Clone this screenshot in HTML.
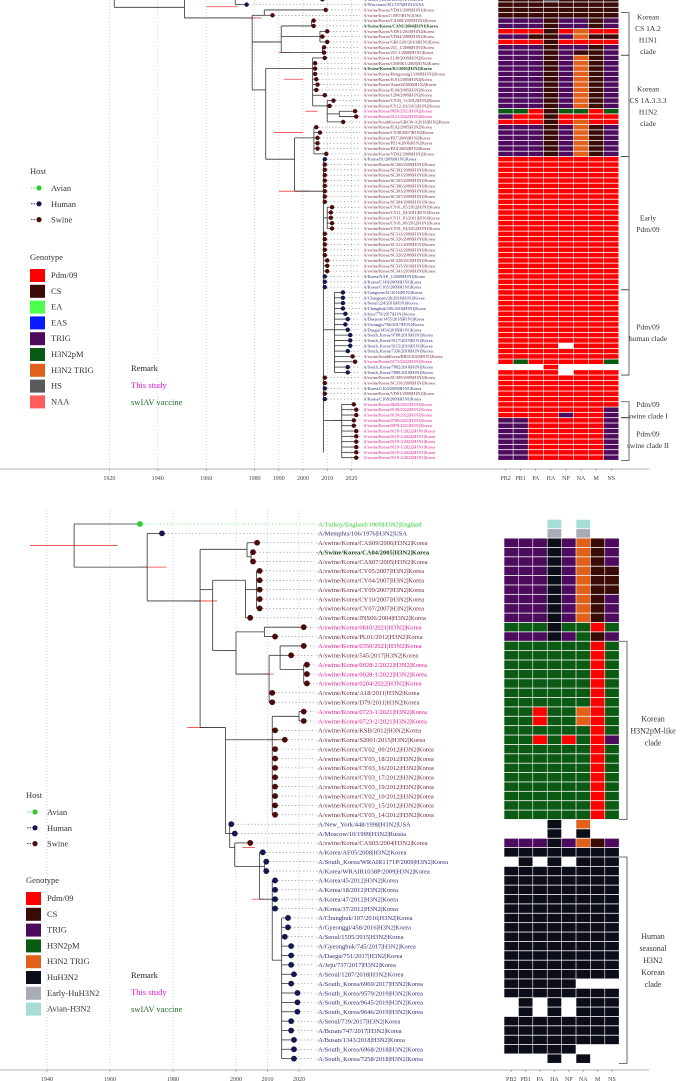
<!DOCTYPE html>
<html><head><meta charset="utf-8"><style>
html,body{margin:0;padding:0;background:#fff;}
svg{display:block;font-family:"Liberation Serif",serif;}
</style></head><body>
<svg id="fig" width="683" height="1081" viewBox="0 0 683 1081" xmlns="http://www.w3.org/2000/svg"></svg>
<script>
// ================= TOP PANEL DATA (H1 segment tree) =================
const topLabels = ["A/South_Korea/2009|H1N1|Korea","A/Wisconsin/301/1976|H1N1|USA","A/swine/Korea/VDS1/2009|H1N1|Korea","A/swine/Iowa/1/1987|H1N1|USA","A/swine/Korea/CAS08/2005|H1N1|Korea","A/Swine/Korea/CAN1/2004|H1N1|Korea","A/swine/Korea/VDS1/2010|H1N2|Korea","A/swine/Korea/VDS4/2008|H1N1|Korea","A/swine/Korea/GBCG01/2010|H1N1|Korea","A/swine/Korea/251_1/2008|H1N1|Korea","A/swine/Korea/251-1/2008|H1N1|Korea","A/swine/Korea/1130/2009|H1N2|Korea","A/swine/Korea/GNS9K1/2005|H1N2|Korea","A/Swine/Korea/K1/2005|H1N2|Korea","A/swine/Korea/Hongseong1/2008|H1N2|Korea","A/swine/Korea/JL01/2005|H1N2|Korea","A/swine/Korea/Asan04/2006|H1N2|Korea","A/swine/Korea/JL04/2005|H1N2|Korea","A/swine/Korea/1204/2009|H1N2|Korea","A/swine/Korea/CY03_11/2012|H1N2|Korea","A/swine/Korea/CY12_03/2011|H1N2|Korea","A/swine/Korea/0656/2021|H1N2|Korea","A/swine/Korea/0121/2022|H1N2|Korea","A/swine/SouthKorea/GBCW-3/2016|H1N2|Korea","A/swine/Korea/JL02/2005|H1N2|Korea","A/swine/Korea/CY08/2007|H1N2|Korea","A/swine/Korea/PZ7/2006|H1N2|Korea","A/swine/Korea/PZ14/2006|H1N2|Korea","A/swine/Korea/PZ4/2006|H1N2|Korea","A/swine/Korea/VDS2/2009|H1N2|Korea","A/Korea/01/2009|H1N1|Korea","A/swine/Korea/SC300/2009|H1N1|Korea","A/swine/Korea/SC302/2009|H1N1|Korea","A/swine/Korea/SC301/2009|H1N1|Korea","A/swine/Korea/SC305/2009|H1N1|Korea","A/swine/Korea/SC306/2009|H1N1|Korea","A/swine/Korea/SC303/2009|H1N1|Korea","A/swine/Korea/SC307/2009|H1N1|Korea","A/swine/Korea/SC304/2009|H1N1|Korea","A/swine/Korea/CY01_05/2012|H1N1|Korea","A/swine/Korea/CY11_02/2011|H1N1|Korea","A/swine/Korea/CY11_01/2011|H1N1|Korea","A/swine/Korea/CY01_06/2012|H1N1|Korea","A/swine/Korea/CY01_04/2012|H1N1|Korea","A/swine/Korea/SC313/2009|H1N1|Korea","A/swine/Korea/SC326/2009|H1N1|Korea","A/swine/Korea/SC311/2009|H1N1|Korea","A/swine/Korea/SC312/2009|H1N1|Korea","A/swine/Korea/SC320/2009|H1N1|Korea","A/swine/Korea/SC328/2010|H1N1|Korea","A/swine/Korea/SC335/2010|H1N1|Korea","A/swine/Korea/SC341/2010|H1N1|Korea","A/Korea/NAP_1/2009|H1N1|Korea","A/Korea/C140/2009|H1N1|Korea","A/Korea/C165/2009|H1N1|Korea","A/Gangwon/61/2016|H1N1|Korea","A/Chungnam/26/2016|H1N1|Korea","A/Seoul/224/2016|H1N1|Korea","A/Chungbuk/106/2016|H1N1|Korea","A/Jeju/779/2017|H1N1|Korea","A/Daejeon/1455/2018|H1N1|Korea","A/Gwangju/766/2017|H1N1|Korea","A/Daegu/1454/2018|H1N1|Korea","A/South_Korea/9708/2019|H1N1|Korea","A/South_Korea/9117/2019|H1N1|Korea","A/South_Korea/9115/2019|H1N1|Korea","A/South_Korea/7336/2018|H1N1|Korea","A/swine/SouthKorea/BRI5/2020|H1N1|Korea","A/swine/Korea/0171/2022|H1N1|Korea","A/South_Korea/7882/2018|H1N1|Korea","A/South_Korea/7880/2018|H1N1|Korea","A/swine/Korea/SC309/2009|H1N1|Korea","A/swine/Korea/SC310/2009|H1N1|Korea","A/Korea/C104/2009|H1N1|Korea","A/swine/Korea/VDS1/2009|H1N1|Korea","A/Korea/C168/2009|H1N1|Korea","A/swine/Korea/0629/2021|H1N1|Korea","A/swine/Korea/0138/2022|H1N1|Korea","A/swine/Korea/0139/2022|H1N1|Korea","A/swine/Korea/0760/2021|H1N1|Korea","A/swine/Korea/0878/2021|H1N1|Korea","A/swine/Korea/0118-1/2022|H1N1|Korea","A/swine/Korea/0119-2/2022|H1N1|Korea","A/swine/Korea/0119-3/2022|H1N1|Korea","A/swine/Korea/0119-1/2022|H1N1|Korea","A/swine/Korea/0118-2/2022|H1N1|Korea","A/swine/Korea/0119-4/2022|H1N1|Korea"];
const topHosts = "HHSSSSSSSSSSSSSSSSSSSSSSSSSSSSHSSSSSSSSSSSSSSSSSSSSSHHHHHHHHHHHHHHHSSHHSSHSHSSSSSSSSSSS";
const topStyles = "nnnnnvnnnnnnnvnnnnnnnppnnnnnnnnnnnnnnnnnnnnnnnnnnnnnnnnnnnnnnnnnnnnnpnnnnnnnppppppppppp";
const topTipYears = [2008,1976.7,2009.4,1987.4,2004.4,2004.4,2010,2008,2010,2008.7,2008.7,2009,2005,2005,2005,2005.5,2006,2005.5,2009,2012.6,2011,2021.5,2022,2016.6,2005.5,2007,2006,2006,2006,2009.6,2009,2009,2009,2009,2009,2009,2009,2009,2009,2012,2011.5,2011.5,2012,2012,2009,2009,2009,2009,2009,2010,2010,2010,2009,2009,2009,2016.5,2016.5,2016.5,2016.5,2017.5,2018.5,2017.5,2018.5,2019.5,2019.5,2019.5,2018.5,2020.5,2021.5,2018.5,2018.5,2009,2009,2009,2009,2009,2021,2022,2022,2021,2021,2022,2022,2022,2022,2022,2022];
const topParents = [1972,1972,1984,1984,2003.5,2003.5,2007,2007,2007,2008,2008,2004,2004,2004,2004,2004,2004,2004,2004,2010,2010,2015,2015,2010,2004.5,2004.5,2004.5,2004.5,2004.5,2004.5,2008.5,2008.5,2008.5,2008.5,2008.5,2008.5,2008.5,2008.5,2008.5,2010,2010,2010,2010,2010,2008.5,2008.5,2008.5,2008.5,2008.5,2008.5,2008.5,2008.5,2008.5,2008.5,2008.5,2013,2013,2013,2013,2013,2013,2013,2013,2013,2013,2013,2013,2013,2013,2013,2013,2008.5,2008.5,2008.5,2008.5,2008.5,2016,2016,2016,2016,2016,2016,2016,2016,2016,2016,2016];
const topGenotypes = ["CCCHCCCC","CCCCCCCC","CCCCCCCC","CCCCCCCC","TTTCTTCT","TTTCTTCT","PPPCPOPP","TTCCTOCC","PPPCPPPP","TTTCTTCT","TTTCTCCT","TTTCTOCT","TTTCTOCT","TTTCTOCT","TTTCTOCT","TTTCTOCT","TTTCTOCT","TTTCTOCT","TTTCTOCT","TTTCTOCT","TTTCTOCT","GGPCGGPG","TPPCPPPP","PPPCPOPP","TTTCTOCT","TTTCTOCT","TTTCTOCT","TTTCTOCT","TTTCTOCT","TTTCTOCT",
"PPPPPPPP","PPPPPPPP","PPPPPPPP","PPPPPPPP","PPPPPPPP","PPPPPPPP","PPPPPPPP","PPPPPPPP","PPPPPPPP","PPPPPPPP","PPPPPPPP","PPPPPPPP","PPPPPPPP","PPPPPPPP","PPPPPPPP","PPPPPPPP","PPPPPPPP","PPPPPPPP","PPPPPPPP","PPPPPPPP","PPPPPPPP","PPPPPPPP","PPPPPPPP","PPPPPPPP","PPPPPPPP","PPPPPPPP","PPPPPPPP","PPPPPPPP","PPPPPPPP","PPPPPPPP","PPPPPPPP","PPPPPPPP","PPPPPPPP","PPPPPPPP","PPPPPPPP","PPPPWPPP","PPPPPPPP","PPPPPPPP","PGPPPPPG","WWWPWWWW","PPPPWPPP","PPPPPPPP","PPPPPPPP","PPPPPPPP","PPPPPPPP","PPPPPPPP","PPPPPPPP","PPPPPPPT","PPPPTPPT","TTPPPPPT","TTPPPPPT","TTPPPPPT","TTPPPPPT","TTPPPPPT","TTPPPPPT","TTPPPPPT","TTPPPPPT"];
const topNodes = [[1922,-1,2.5],[1951,1,4.5],[1972,1,2],[1979,4,18],[1984,3,4],[1991,6,11],[2003.5,5,6],[2007,7,9],[2008,10,11],[1984.6,14,31],[2004,12,21],[2010,20,24],[2015,22,23],[1996.5,27,37],[2004.5,25,30],[2008.5,31,86],[2010,40,44],[2013,56,71],[2016,77,87]];
const topStems = [[1922,1951,2.5],[1951,1972,1],[1951,1979,4.5],[1979,1984,4],[1979,1991,9],[1991,2003.5,6],[1991,2007,8],[1991,2008,11],[1979,1984.6,18],[1984.6,2004,14],[2004,2010,21],[2010,2015,22.5],[1984.6,1996.5,31],[1996.5,2004.5,27],[1996.5,2008.5,37],[2008.5,2010,42],[2008.5,2013,63],[2008.5,2016,80]];
const topErrBars = [[1960,1973,2.4],[1975,1983,4.5],[1980,1988,9],[1990,1995,11],[1992,2000,16],[1988,2000,26],[1990,2003,37],[2012,2016,80],[2001,2006,22]];
const topTicks = [1920,1940,1960,1980,1990,2000,2010,2020];
const topClades = [[4,11,["Korean","CS 1A.2","H1N1","clade"]],[12,30,["Korean","CS 1A.3.3.3","H1N2","clade"]],[31,55,["Early","Pdm/09"]],[56,71,["Pdm/09","human clade"]],[77,79,["Pdm/09","swine clade I"]],[80,87,["Pdm/09","swine clade II"]]];

// ================= BOTTOM PANEL DATA (H3 segment tree) =================
const botLabels = ["A/Turkey/England/1969|H3N2|England","A/Memphis/106/1976|H3N2|USA","A/swine/Korea/CAS09/2006|H3N2|Korea","A/Swine/Korea/CA04/2005|H3N2|Korea","A/swine/Korea/CAS07/2005|H3N2|Korea","A/swine/Korea/CY05/2007|H3N2|Korea","A/swine/Korea/CY04/2007|H3N2|Korea","A/swine/Korea/CY09/2007|H3N2|Korea","A/swine/Korea/CY10/2007|H3N2|Korea","A/swine/Korea/CY07/2007|H3N2|Korea","A/swine/Korea/JNS06/2004|H3N2|Korea","A/swine/Korea/0810/2021|H3N2|Korea","A/swine/Korea/PL01/2012|H3N2|Korea","A/swine/Korea/0350/2021|H3N2|Korea","A/swine/Korea/545/2017|H3N2|Korea","A/swine/Korea/0028-2/2022|H3N2|Korea","A/swine/Korea/0028-1/2022|H3N2|Korea","A/swine/Korea/0204/2022|H3N2|Korea","A/swine/Korea/A18/2011|H3N2|Korea","A/swine/Korea/D79/2011|H3N2|Korea","A/swine/Korea/0723-1/2021|H3N2|Korea","A/swine/Korea/0723-2/2021|H3N2|Korea","A/swine/Korea/KSB/2012|H3N2|Korea","A/swine/Korea/S2001/2015|H3N2|Korea","A/swine/Korea/CY02_09/2012|H3N2|Korea","A/swine/Korea/CY03_18/2012|H3N2|Korea","A/swine/Korea/CY03_16/2012|H3N2|Korea","A/swine/Korea/CY03_17/2012|H3N2|Korea","A/swine/Korea/CY03_19/2012|H3N2|Korea","A/swine/Korea/CY02_10/2012|H3N2|Korea","A/swine/Korea/CY03_15/2012|H3N2|Korea","A/swine/Korea/CY03_14/2012|H3N2|Korea","A/New_York/448/1998|H3N2|USA","A/Moscow/10/1999|H3N2|Russia","A/swine/Korea/CAS05/2004|H3N2|Korea","A/Korea/AF05/2008|H3N2|Korea","A/South_Korea/WRAIR1171P/2009|H3N2|Korea","A/Korea/WRAIR1038P/2009|H3N2|Korea","A/Korea/45/2012|H3N2|Korea","A/Korea/18/2012|H3N2|Korea","A/Korea/47/2012|H3N2|Korea","A/Korea/37/2012|H3N2|Korea","A/Chungbuk/107/2016|H3N2|Korea","A/Gyeonggi/458/2016|H3N2|Korea","A/Seoul/1595/2015|H3N2|Korea","A/Gyeongbuk/745/2017|H3N2|Korea","A/Daegu/751/2017|H3N2|Korea","A/Jeju/737/2017|H3N2|Korea","A/Seoul/1287/2018|H3N2|Korea","A/South_Korea/6969/2017|H3N2|Korea","A/South_Korea/9579/2019|H3N2|Korea","A/South_Korea/9645/2019|H3N2|Korea","A/South_Korea/9646/2019|H3N2|Korea","A/Seoul/739/2017|H3N2|Korea","A/Busan/747/2017|H3N2|Korea","A/Busan/1343/2018|H3N2|Korea","A/South_Korea/6968/2018|H3N2|Korea","A/South_Korea/7258/2018|H3N2|Korea"];
const botHosts = "AHSSSSSSSSSSSSSSSSSSSSSSSSSSSSSSHHSHHHHHHHHHHHHHHHHHHHHHHH";
const botStyles = "nnnvnnnnnnnpnpnpppnnppnnnnnnnnnnnnnnnnnnnnnnnnnnnnnnnnnnnn";
const botTipYears = [1969.5,1976.5,2006.7,2005.4,2005.4,2007.5,2007.5,2007.5,2007.5,2007.5,2004.5,2021.5,2012.4,2021.5,2017.5,2022.5,2022.5,2022.5,2011.5,2011.5,2021.5,2021.5,2012.4,2015.5,2012.4,2012.4,2012.4,2012.4,2012.4,2012.4,2012.4,2012.4,1998.5,1999.6,2004.5,2008.5,2009.6,2009.6,2012.4,2012.4,2012.4,2012.4,2016.5,2016.5,2015.5,2017.5,2017.5,2017.5,2018.4,2017.5,2019.5,2019.5,2019.5,2017.5,2017.5,2018.4,2018.4,2018.4];
const botParents = [1948.6,1971.8,2003.5,2004.8,2004.8,2006.5,2006.5,2006.5,2006.5,2006.5,2003,2009,2009,2014,2014,2021.5,2021.5,2021.5,2010.5,2010.5,2020,2020,2011.5,2011.5,2011.5,2011.5,2011.5,2011.5,2011.5,2011.5,2011.5,2011.5,1998,1998,1999.6,2007.5,2009,2009,2011.5,2011.5,2011.5,2011.5,2014.5,2014.5,2014.5,2014.5,2014.5,2014.5,2014.5,2014.5,2014.5,2014.5,2014.5,2014.5,2014.5,2014.5,2014.5,2014.5];
const botGenotypes = ["WWWAWAWW","WWWYWYWW","TTTKTOCT","TTTKTOCT","TTTKTOCT","TTTKTOCC","TTTKTOCC","TTTKTOCC","TTTKTOCT","TTTKTOCT","TTTKTOCT","GGGKGGPG","TTTKTGCT","GGGGGGPG","GGGGGGPG","GGGGGGPG","GGGGGGPG","GGGGGGPG","GGGGGGPG","GGGGGGPG","GGPGGOPG","GGPGGOPG","GGGGGGPG","GGPGPGPT","GGGGGGPG","GGGGGGPG","GGGGGGPG","GGGGGGPG","GGGGGGPG","GGGGGGPG","GGGGGGPG","GGGGGGPG","WWWKWOWW","WWWKWKWW","TTTKTOCT","KKKKKKKK","WKWKWKKK","KKKKKKKK","KKKKKKKK","KKKKKKKK","KKKKKKKK","KKKKKKKK","KKKKKKKK","KKKKKKKK","KKKKKKKK","KKKKKKKK","KKKKKKKK","KKKKKKKK","KKKKKKKK","KKKKKWWW","KKKKKKKK","WKWKWKKK","WKWKWKKK","KKKKKKKK","KKKKKKKK","KKKKKKKK","KKKKKWWW","WWWKWKWW"];
const botNodes = [[1948.6,1,5.6],[1971.8,2,9.2],[1988.6,3.7,22.7],[2003.5,3,4.5],[2004.8,4,5],[1992.6,7,14.5],[2003,7,11],[2006.5,6,10],[2000,12.5,17],[2009,12,13],[2010.5,15,20],[2014,14,16.5],[2021.5,16,18],[1996.7,22.7,34],[2011.5,21.5,32],[2020,21,22],[1998,33,35.5],[1999.6,35,37.5],[2007.5,36,41],[2009,37,38],[2011.5,39,47.5],[2014.5,43,58]];
const botStems = [[1948.6,1971.8,5.6],[1971.8,1988.6,9.2],[1988.6,2003.5,3.7],[2003.5,2004.8,4.5],[1988.6,1992.6,8],[1992.6,2003,7],[2003,2006.5,8],[1992.6,2000,14.5],[2000,2009,12.5],[2000,2010.5,17],[2010.5,2014,15],[2014,2021.5,16.5],[1988.6,1996.7,22.7],[1996.7,2011.5,24],[2011.5,2020,21.5],[1996.7,1998,34],[1998,1999.6,35.5],[1999.6,2007.5,37.5],[2007.5,2009,37.5],[2007.5,2011.5,41],[2011.5,2014.5,47.5]];
const botErrBars = [[1934.6,1962.4,3.3],[1969,1978,5.6],[1985.8,1994,9.2],[1984.5,1991,22.7],[1994,2000,14.5],[2007,2012,17],[2010,2013,24],[2002,2006,35.5],[2005,2009,41]];
const botTicks = [1940,1960,1980,2000,2010,2020];
const botClades = [[14,32,["Korean","H3N2pM-like","clade"]],[37,58,["Human","seasonal","H3N2","Korean","clade"]]];

const segments = ["PB2","PB1","PA","HA","NP","NA","M","NS"];
const genoColors = {P:"#ff0000",C:"#3a0a06",E:"#4cff4c",B:"#0a1aff",T:"#4c0b5c",G:"#0b5a14",O:"#e0621a",H:"#5a5a5a",N:"#ff5c5c",K:"#0b0d18",Y:"#a8acb4",A:"#a6ddd4"};
const hostColors = {A:"#2ecc2e",H:"#15174f",S:"#4a0c0c"};
const labelColors = {A:"#2ecc2e",H:"#2b2d72",S:"#6a2838"};

const NS="http://www.w3.org/2000/svg";
const svg=document.getElementById("fig");
function el(tag,attrs,parent){const e=document.createElementNS(NS,tag);for(const k in attrs)e.setAttribute(k,attrs[k]);(parent||svg).appendChild(e);return e;}

function drawPanel(cfg, d){
  const g=el("g",{});
  
  
  const xs=y=>cfg.x0+(y-2000)*cfg.ppy;
  const ys=r=>cfg.y0+(r-1)*cfg.rowH;
  d.ticks.forEach(t=>{
    const gl=el("line",{x1:xs(t),x2:xs(t),y1:cfg.gridTop,y2:cfg.axisY,stroke:"#bbb","stroke-width":0.6,"stroke-dasharray":"1,2"},g);
    
    
    const tl=el("text",{x:xs(t),y:cfg.axisY+11,"font-size":6,"text-anchor":"middle",fill:"#444"},g);
    tl.textContent=t;
    
    
    el("line",{x1:xs(t),x2:xs(t),y1:cfg.axisY,y2:cfg.axisY+2,stroke:"#888","stroke-width":0.6},g);
  });
  const ax=el("line",{x1:0,x2:649,y1:cfg.axisY,y2:cfg.axisY,stroke:"#999","stroke-width":0.8},g);
  
  
  d.err.forEach(b=>{
    const l=el("line",{x1:xs(b[0]),x2:xs(b[1]),y1:ys(b[2]),y2:ys(b[2]),stroke:"#f04040","stroke-width":0.8},g);
    
    
  });
  d.nodes.forEach(n=>{
    const l=el("line",{x1:xs(n[0]),x2:xs(n[0]),y1:ys(n[1]),y2:ys(n[2]),stroke:"#333","stroke-width":0.8},g);
    
    
  });
  d.stems.forEach(s=>{
    const l=el("line",{x1:xs(s[0]),x2:xs(s[1]),y1:ys(s[2]),y2:ys(s[2]),stroke:"#333","stroke-width":0.8},g);
    
    
  });
  d.labels.forEach((lab,i)=>{
    const r=i+1, y=ys(r), tx=xs(d.tips[i]);
    const br=el("line",{x1:xs(d.parents[i]),x2:tx,y1:y,y2:y,stroke:"#333","stroke-width":0.8},g);
    
    
    const h=d.hosts[i];
    const dl=el("line",{x1:tx+cfg.dot,x2:cfg.labelX-2,y1:y,y2:y,stroke:h==="A"?"#2ecc2e":"#777","stroke-width":0.6,"stroke-dasharray":"1.2,2.2"},g);
    
    
    const c=el("circle",{cx:tx,cy:y,r:cfg.dot,fill:hostColors[h]},g);
    
    
    const st=d.styles[i];
    const col=st==="p"?"#e2128c":(st==="v"?"#15401a":labelColors[h]);
    const t=el("text",{x:cfg.labelX,y:y+cfg.fs*0.35,"font-size":cfg.fs,fill:col,"font-weight":st==="v"?"bold":"normal"},g);
    t.textContent="·"+lab;
    
    
    d.geno[i].split("").forEach((code,j)=>{
      if(code==="W")return;
      const cell=el("rect",{x:cfg.hmX+j*cfg.colW+0.3,y:y-cfg.rowH/2+0.4,width:cfg.colW-0.6,height:cfg.rowH-0.8,fill:genoColors[code]},g);
      
      
    });
  });
  segments.forEach((s,j)=>{
    const t=el("text",{x:cfg.hmX+(j+0.5)*cfg.colW,y:cfg.axisY+11,"font-size":6,"text-anchor":"middle",fill:"#444"},g);
    t.textContent=s;
    
    
    el("line",{x1:cfg.hmX+(j+0.5)*cfg.colW,x2:cfg.hmX+(j+0.5)*cfg.colW,y1:cfg.axisY,y2:cfg.axisY+2,stroke:"#888","stroke-width":0.6},g);
  });
  d.clades.forEach(c=>{
    const y1=ys(c[0])-cfg.rowH/2, y2=ys(c[1])+cfg.rowH/2, bx=cfg.brX;
    const p=el("path",{d:`M${bx-8},${y1}H${bx}V${y2}H${bx-8}`,fill:"none",stroke:"#444","stroke-width":0.8},g);
    
    
    const mid=(y1+y2)/2, lh=cfg.cladeLH, n=c[2].length;
    c[2].forEach((line,k)=>{
      const t=el("text",{x:cfg.cladeX,y:mid-(n-1)*lh/2+k*lh+3,"font-size":cfg.cladeFs,"text-anchor":"middle",fill:"#333"},g);
      t.textContent=line;
      
      
    });
  });
}

drawPanel({name:"h1-panel",x0:303,ppy:2.42,y0:-0.7,rowH:5.33,labelX:362,hmX:498,colW:15.1,fs:4.3,dot:2.2,axisY:469,gridTop:0,brX:629,cladeX:648,cladeFs:7.5,cladeLH:11.5},
  {labels:topLabels,hosts:topHosts,styles:topStyles,tips:topTipYears,parents:topParents,geno:topGenotypes,nodes:topNodes,stems:topStems,err:topErrBars,ticks:topTicks,clades:topClades});
drawPanel({name:"h3-panel",x0:236,ppy:3.15,y0:524,rowH:9.38,labelX:316,hmX:504,colW:14.4,fs:6.5,dot:2.9,axisY:1070,gridTop:510,brX:627,cladeX:653,cladeFs:8,cladeLH:12},
  {labels:botLabels,hosts:botHosts,styles:botStyles,tips:botTipYears,parents:botParents,geno:botGenotypes,nodes:botNodes,stems:botStems,err:botErrBars,ticks:botTicks,clades:botClades});

function legend(name,x,hostY,genoY,items,remarkY){
  const g=el("g",{});
  
  
  const ht=el("text",{x:x,y:hostY,"font-size":8.5,fill:"#333"},g);ht.textContent="Host";
  
  
  [["Avian","A"],["Human","H"],["Swine","S"]].forEach((h,k)=>{
    const yy=hostY+17+k*15.8;
    el("line",{x1:x+1,x2:x+6,y1:yy-3,y2:yy-3,stroke:hostColors[h[1]],"stroke-width":0.8,"stroke-dasharray":"1.5,1"},g);
    const c=el("circle",{cx:x+9,cy:yy-3,r:2.6,fill:hostColors[h[1]]},g);
    
    
    const t=el("text",{x:x+21,y:yy,"font-size":8.5,fill:"#333"},g);t.textContent=h[0];
    
    
  });
  const gt=el("text",{x:x,y:genoY,"font-size":8.5,fill:"#333"},g);gt.textContent="Genotype";
  
  
  items.forEach((it,k)=>{
    const yy=genoY+18+k*15.8;
    const r=el("rect",{x:x,y:yy-9,width:15,height:13,fill:genoColors[it[1]]},g);
    
    
    const t=el("text",{x:x+21,y:yy,"font-size":8.5,fill:"#333"},g);t.textContent=it[0];
    
    
  });
  [["Remark","#222"],["This study","#e21ad0"],["swIAV vaccine","#1f6a28"]].forEach((rm,k)=>{
    const t=el("text",{x:131,y:remarkY+k*17,"font-size":8.5,fill:rm[1]},g);t.textContent=rm[0];
    
    
  });
}
legend("h1-legend",30,174,260,[["Pdm/09","P"],["CS","C"],["EA","E"],["EAS","B"],["TRIG","T"],["H3N2pM","G"],["H3N2 TRIG","O"],["HS","H"],["NAA","N"]],371);
legend("h3-legend",26,798,883,[["Pdm/09","P"],["CS","C"],["TRIG","T"],["H3N2pM","G"],["H3N2 TRIG","O"],["HuH3N2","K"],["Early-HuH3N2","Y"],["Avian-H3N2","A"]],978);
</script>
</body></html>
